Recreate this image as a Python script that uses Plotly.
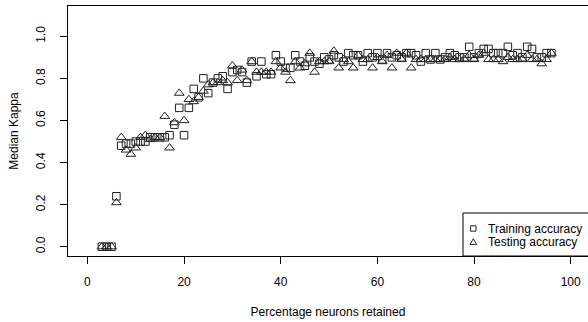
import plotly.graph_objects as go

# Data
pct_retained = list(range(3, 97))
training_kappa = [
    0.00, 0.00, 0.00, 0.24, 0.48, 0.49, 0.49, 0.50, 0.50, 0.50,   # 3-12
    0.52, 0.52, 0.52, 0.52, 0.53, 0.58, 0.66, 0.53, 0.66, 0.75,   # 13-22
    0.71, 0.80, 0.73, 0.78, 0.80, 0.81, 0.75, 0.83, 0.84, 0.83,   # 23-32
    0.78, 0.88, 0.81, 0.88, 0.82, 0.82, 0.91, 0.88, 0.85, 0.85,   # 33-42
    0.91, 0.88, 0.86, 0.90, 0.88, 0.87, 0.90, 0.89, 0.91, 0.90,   # 43-52
    0.88, 0.92, 0.91, 0.91, 0.88, 0.92, 0.90, 0.92, 0.89, 0.92,   # 53-62
    0.90, 0.91, 0.90, 0.92, 0.92, 0.91, 0.88, 0.92, 0.89, 0.92,   # 63-72
    0.89, 0.90, 0.92, 0.91, 0.90, 0.90, 0.95, 0.90, 0.92, 0.94,   # 73-82
    0.94, 0.92, 0.92, 0.92, 0.95, 0.91, 0.92, 0.90, 0.95, 0.94,   # 83-92
    0.90, 0.90, 0.92, 0.92,                                       # 93-96
]
testing_kappa = [
    0.00, 0.00, 0.00, 0.21, 0.52, 0.46, 0.44, 0.47, 0.52, 0.53,   # 3-12
    0.51, 0.52, 0.52, 0.62, 0.47, 0.59, 0.73, 0.60, 0.70, 0.69,   # 13-22
    0.71, 0.74, 0.77, 0.78, 0.78, 0.79, 0.78, 0.86, 0.79, 0.84,   # 23-32
    0.79, 0.88, 0.83, 0.83, 0.83, 0.83, 0.88, 0.85, 0.83, 0.79,   # 33-42
    0.88, 0.85, 0.87, 0.92, 0.83, 0.88, 0.88, 0.88, 0.93, 0.85,   # 43-52
    0.89, 0.88, 0.85, 0.91, 0.89, 0.89, 0.85, 0.90, 0.88, 0.91,   # 53-62
    0.85, 0.92, 0.89, 0.92, 0.85, 0.89, 0.89, 0.89, 0.89, 0.89,   # 63-72
    0.89, 0.89, 0.90, 0.89, 0.89, 0.89, 0.91, 0.89, 0.91, 0.92,   # 73-82
    0.89, 0.89, 0.89, 0.88, 0.90, 0.89, 0.89, 0.89, 0.91, 0.89,   # 83-92
    0.89, 0.87, 0.89, 0.92,                                       # 93-96
]
x_ticks = [0, 20, 40, 60, 80, 100]
y_ticks = [0.0, 0.2, 0.4, 0.6, 0.8, 1.0]
y_tick_labels = ["0.0", "0.2", "0.4", "0.6", "0.8", "1.0"]
legend_labels = ["Training accuracy", "Testing accuracy"]

FONT = "Liberation Sans, Arial, sans-serif"
W, H = 588, 322
L, R, T, B = 68, 0, 6, 66

fig = go.Figure()
fig.add_trace(go.Scatter(
    x=pct_retained, y=training_kappa, mode="markers", name=legend_labels[0],
    marker=dict(symbol="square-open", size=7.5, color="#222", line=dict(width=1)),
    showlegend=False,
))
fig.add_trace(go.Scatter(
    x=pct_retained, y=testing_kappa, mode="markers", name=legend_labels[1],
    marker=dict(symbol="triangle-up-open", size=8.5, color="#222", line=dict(width=1)),
    showlegend=False,
))

pw = W - L - R
ph = H - T - B

def px_x(p):
    return (p - L) / pw

def px_y(p):
    return (H - B - p) / ph

# Manual legend box (R style)
shapes = [
    dict(type="rect", xref="paper", yref="paper",
         x0=px_x(463), x1=px_x(600), y0=px_y(256), y1=px_y(213),
         line=dict(color="black", width=1), fillcolor="white", layer="above"),
    dict(type="rect", xref="paper", yref="paper", xsizemode="pixel", ysizemode="pixel",
         xanchor=px_x(473.3), yanchor=px_y(228.5), x0=-2.7, x1=2.7, y0=-2.7, y1=2.7,
         line=dict(color="#222", width=1), layer="above"),
    dict(type="path", xref="paper", yref="paper", xsizemode="pixel", ysizemode="pixel",
         xanchor=px_x(473.3), yanchor=px_y(242), path="M -3.3 -2.4 L 3.3 -2.4 L 0 3.3 Z",
         line=dict(color="#222", width=1), layer="above"),
]
annotations = [
    dict(xref="paper", yref="paper", x=px_x(486), y=px_y(228.5), xanchor="left", yanchor="middle",
         text=legend_labels[0], showarrow=False, font=dict(family=FONT, size=12, color="black")),
    dict(xref="paper", yref="paper", x=px_x(486), y=px_y(242), xanchor="left", yanchor="middle",
         text=legend_labels[1], showarrow=False, font=dict(family=FONT, size=12, color="black")),
]

x0 = (L - 87.4) / 4.833
x1 = (W - R - 87.4) / 4.833

fig.update_layout(
    width=W, height=H,
    margin=dict(l=L, r=R, t=T, b=B, pad=0),
    paper_bgcolor="white", plot_bgcolor="white",
    font=dict(family=FONT, size=12, color="black"),
    shapes=shapes, annotations=annotations,
    xaxis=dict(
        range=[x0, x1], tickvals=x_ticks, ticks="outside", ticklen=7, tickwidth=1,
        tickcolor="black", showline=True, linecolor="black", linewidth=1, mirror=True,
        showgrid=False, zeroline=False, ticklabelstandoff=8,
        title=dict(text="Percentage neurons retained", standoff=19, font=dict(size=12)),
    ),
    yaxis=dict(
        range=[-0.044, 1.144], tickvals=y_ticks, ticktext=y_tick_labels, ticks="outside",
        ticklen=7, tickwidth=1, tickcolor="black", showline=True, linecolor="black",
        linewidth=1, mirror=False, showgrid=False, zeroline=False, tickangle=-90,
        ticklabelstandoff=10,
        title=dict(text="Median Kappa", standoff=13, font=dict(size=12)),
    ),
)

fig.write_html(
    "out.html",
    config={"displayModeBar": False},
    post_script="document.body.style.margin='0px';document.body.style.overflow='hidden';",
)
